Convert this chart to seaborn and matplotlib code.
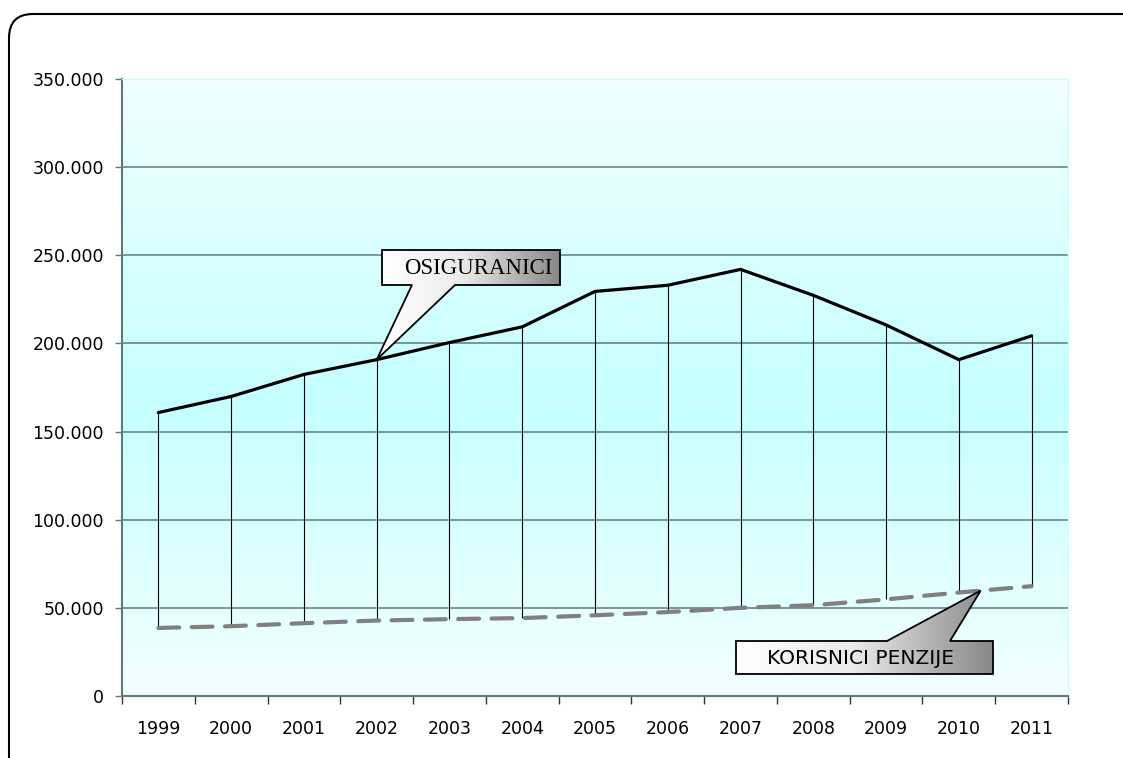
import numpy as np
import pandas as pd
import matplotlib
matplotlib.use("Agg")
import matplotlib.pyplot as plt
import seaborn as sns
from matplotlib.patches import FancyBboxPatch, Polygon
from matplotlib.colors import LinearSegmentedColormap
from matplotlib.ticker import FuncFormatter, MultipleLocator, FixedLocator

years = ["1999", "2000", "2001", "2002", "2003", "2004", "2005", "2006",
         "2007", "2008", "2009", "2010", "2011"]
osiguranici = [160800, 169900, 182400, 190800, 200500, 209400, 229500,
               233000, 242000, 227300, 210500, 190800, 204300]
korisnici = [38600, 39600, 41300, 42800, 43600, 44200, 45800, 47600,
             50000, 51500, 54800, 58700, 62300]
label_osig = "OSIGURANICI"
label_kor = "KORISNICI PENZIJE"

sns.set_style("white")
plt.rcParams['font.family'] = ['DejaVu Sans']

W, H = 1123, 758
fig = plt.figure(figsize=(W / 100, H / 100), dpi=100)
fig.patch.set_facecolor("white")
ax = fig.add_axes([122 / W, (H - 696) / H, 946 / W, 617 / H])

x = np.arange(len(years))
df = pd.DataFrame({"x": np.concatenate([x, x]),
                   "val": osiguranici + korisnici,
                   "serija": [label_osig] * len(x) + [label_kor] * len(x)})

ax.set_xlim(-0.5, len(years) - 0.5)
ax.set_ylim(0, 350000)

# gradient background
grad_cmap = LinearSegmentedColormap.from_list(
    "bg", [(0, "#F0FFFF"), (0.52, "#C6FFFF"), (1, "#F2FFFF")])
gv = np.linspace(0, 1, 256).reshape(-1, 1)
ax.imshow(gv, aspect="auto", cmap=grad_cmap, origin="upper",
          extent=[-0.5, len(years) - 0.5, 0, 350000], zorder=0)

grid_color = "#5E7A7A"
for yv in range(50000, 350001, 50000):
    ax.axhline(yv, color=grid_color, lw=1.1, zorder=1)

# drop lines
ax.vlines(x, korisnici, osiguranici, color="black", lw=0.8, zorder=2)

sns.lineplot(data=df[df.serija == label_osig], x="x", y="val", ax=ax,
             color="black", lw=2.3, zorder=4, legend=False)
sns.lineplot(data=df[df.serija == label_kor], x="x", y="val", ax=ax,
             color="#808080", lw=3.0, zorder=3, legend=False)
ax.lines[-1].set_dashes((5, 3))
ax.lines[-1].set_dash_capstyle("round")

ax.set_xlabel("")
ax.set_ylabel("")

# y axis
ax.yaxis.set_major_locator(MultipleLocator(50000))
ax.yaxis.set_major_formatter(FuncFormatter(
    lambda v, p: "0" if v == 0 else f"{int(v):,}".replace(",", ".")))
ax.tick_params(axis="y", which="major", direction="out", length=5, width=1,
               color=grid_color, pad=8, labelsize=12.5, labelcolor="black",
               left=True)

# x axis: ticks at boundaries, labels at centers
ax.xaxis.set_major_locator(FixedLocator(np.arange(-0.5, len(years), 1.0)))
ax.xaxis.set_major_formatter(FuncFormatter(lambda v, p: ""))
ax.set_xticks(x, labels=years, minor=True)
ax.tick_params(axis="x", which="major", direction="out", length=6, width=1,
               color="#333333", bottom=True)
ax.tick_params(axis="x", which="minor", length=0, pad=17, labelsize=12.5,
               labelcolor="black")

for s in ["top", "right"]:
    ax.spines[s].set_color("#C8FFFF")
    ax.spines[s].set_linewidth(1)
for s in ["left", "bottom"]:
    ax.spines[s].set_color(grid_color)
    ax.spines[s].set_linewidth(1.5)

# overlay for border and callouts
ov = fig.add_axes([0, 0, 1, 1], zorder=10)
ov.set_xlim(0, W)
ov.set_ylim(H, 0)
ov.axis("off")
ov.patch.set_alpha(0)

border = FancyBboxPatch((9, 14), 1150, 770,
                        boxstyle="round,pad=0,rounding_size=24",
                        fill=False, ec="black", lw=1.5)
ov.add_patch(border)


def to_ov(xd, yd):
    px, py = ax.transData.transform((xd, yd))
    return px, H - py


box_cmap = LinearSegmentedColormap.from_list(
    "box", [(0, "#FFFFFF"), (0.45, "#EBEBEB"), (1, "#888888")])


def callout(x0, y0, x1, y1, bx0, bx1, tip, below, text, family, size, dx):
    tx, ty = tip
    if below:
        verts = [(x0, y0), (x1, y0), (x1, y1), (bx1, y1), (tx, ty), (bx0, y1), (x0, y1), (x0, y0)]
    else:
        verts = [(x0, y0), (bx0, y0), (tx, ty), (bx1, y0), (x1, y0), (x1, y1), (x0, y1), (x0, y0)]
    poly = Polygon(verts, closed=True, fc="none", ec="black", lw=1.3, zorder=12)
    ov.add_patch(poly)
    ymin = min(y0, ty) - 2
    ymax = max(y1, ty) + 2
    g = np.linspace(0, 1, 256).reshape(1, -1)
    im = ov.imshow(g, aspect="auto", cmap=box_cmap, extent=[x0, x1, ymax, ymin],
                   zorder=11)
    clip = Polygon(verts, closed=True, transform=ov.transData)
    im.set_clip_path(clip)
    ov.text((x0 + x1) / 2 + dx, (y0 + y1) / 2 + 1, text, ha="center", va="center",
            family=family, fontsize=size, color="black", zorder=13)


tip1 = to_ov(3, osiguranici[3])
callout(382, 250, 560, 285, 412, 455, tip1, True, label_osig,
        ["Liberation Serif", "DejaVu Serif"], 16.5, 7)

tip2 = to_ov(11.3, korisnici[11] + 0.3 * (korisnici[12] - korisnici[11]))
callout(736, 641, 993, 674, 887, 950, tip2, False, label_kor,
        ["DejaVu Sans"], 14.5, -4)

fig.savefig("out.png", dpi=100)
